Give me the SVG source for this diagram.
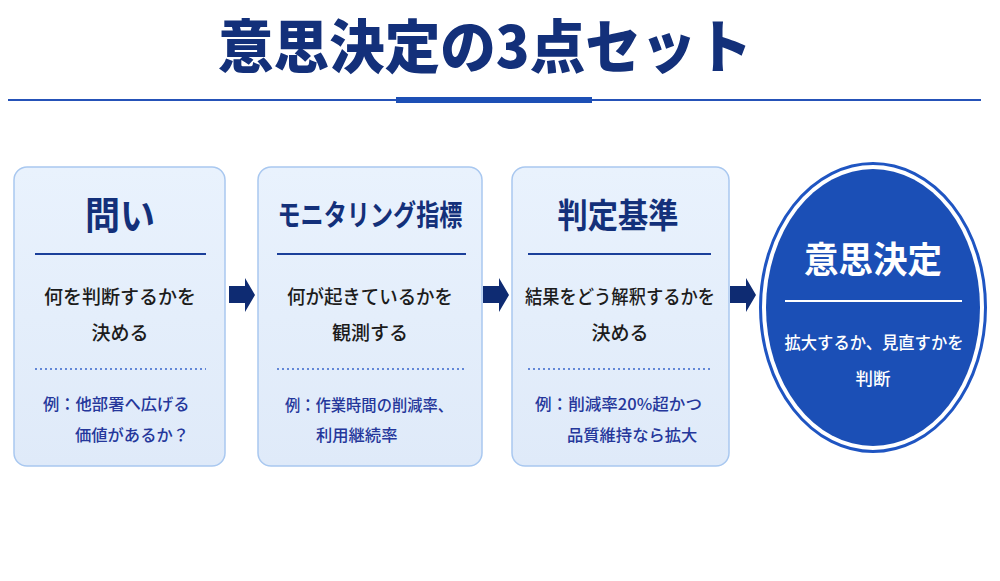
<svg xmlns="http://www.w3.org/2000/svg" width="1000" height="581" viewBox="0 0 1000 581">
  <defs>
    <linearGradient id="boxFill" x1="0" y1="0" x2="0" y2="1">
      <stop offset="0" stop-color="#e9f2fd"/>
      <stop offset="1" stop-color="#dfeaf9"/>
    </linearGradient>
    <style>
      text { font-family: "Noto Sans CJK JP", "Noto Sans", sans-serif; }
      .box { fill: url(#boxFill); stroke: #a9c8f0; stroke-width: 1.5; }
      .btitle { font-weight: 700; fill: #13307a; text-anchor: middle; }
      .rule { stroke: #1b3f9a; stroke-width: 2.2; }
      .dots { stroke: #3a66cc; stroke-width: 1.6; stroke-dasharray: 2 3; }
      .body { font-size: 19px; font-weight: 500; fill: #1c1c1c; text-anchor: middle; }
      .ex { font-size: 16.3px; font-weight: 500; fill: #25379b; }
      .arrow { fill: #0e2b72; }
    </style>
  </defs>
  <rect width="1000" height="581" fill="#ffffff"/>

  <g id="header">
    <text x="485" y="68" font-size="58" font-weight="900" fill="#13307a" text-anchor="middle" textLength="534" lengthAdjust="spacingAndGlyphs">意思決定の3点セット</text>
    <line x1="8" y1="100" x2="981" y2="100" stroke="#2552b8" stroke-width="1.8"/>
    <rect x="396" y="97" width="196" height="6" fill="#1d4fb5"/>
  </g>

  <g id="node-question">
    <rect class="box" x="14" y="167" width="211" height="299" rx="13"/>
    <text class="btitle" x="120" y="229" font-size="38" textLength="70" lengthAdjust="spacingAndGlyphs">問い</text>
    <line class="rule" x1="35" y1="254" x2="206" y2="254"/>
    <text class="body" x="120" y="304">何を判断するかを</text>
    <text class="body" x="120" y="340">決める</text>
    <line class="dots" x1="35" y1="369" x2="206" y2="369"/>
    <text class="ex" x="43" y="410">例：他部署へ広げる</text>
    <text class="ex" x="75" y="441">価値があるか？</text>
  </g>

  <g id="node-monitoring">
    <rect class="box" x="258" y="167" width="224" height="299" rx="13"/>
    <text class="btitle" x="370" y="226" font-size="29" textLength="185" lengthAdjust="spacingAndGlyphs">モニタリング指標</text>
    <line class="rule" x1="277" y1="254" x2="466" y2="254"/>
    <text class="body" x="370" y="304" textLength="166" lengthAdjust="spacingAndGlyphs">何が起きているかを</text>
    <text class="body" x="370" y="340">観測する</text>
    <line class="dots" x1="277" y1="369" x2="466" y2="369"/>
    <text class="ex" x="285" y="411" textLength="168" lengthAdjust="spacingAndGlyphs">例：作業時間の削減率、</text>
    <text class="ex" x="316" y="441">利用継続率</text>
  </g>

  <g id="node-criteria">
    <rect class="box" x="512" y="167" width="217" height="299" rx="13"/>
    <text class="btitle" x="618" y="228" font-size="34" textLength="121" lengthAdjust="spacingAndGlyphs">判定基準</text>
    <line class="rule" x1="528" y1="254" x2="711" y2="254"/>
    <text class="body" x="620" y="304" textLength="190" lengthAdjust="spacingAndGlyphs">結果をどう解釈するかを</text>
    <text class="body" x="620" y="340">決める</text>
    <line class="dots" x1="528" y1="369" x2="711" y2="369"/>
    <text class="ex" x="535" y="410" textLength="167" lengthAdjust="spacingAndGlyphs">例：削減率20%超かつ</text>
    <text class="ex" x="567" y="441">品質維持なら拡大</text>
  </g>

  <g id="node-decision">
    <ellipse cx="873" cy="307.5" rx="112.5" ry="144" fill="#ffffff" stroke="#1f55c2" stroke-width="3"/>
    <ellipse cx="873" cy="307.5" rx="107" ry="138.5" fill="#1b4fb6"/>
    <text x="873" y="273" font-size="36" font-weight="700" fill="#ffffff" text-anchor="middle" textLength="138" lengthAdjust="spacingAndGlyphs">意思決定</text>
    <line x1="785" y1="301" x2="962" y2="301" stroke="#ffffff" stroke-width="2"/>
    <text x="874" y="349" font-size="17.5" font-weight="500" fill="#ffffff" text-anchor="middle" textLength="179" lengthAdjust="spacingAndGlyphs">拡大するか、見直すかを</text>
    <text x="873" y="385" font-size="17.5" font-weight="500" fill="#ffffff" text-anchor="middle">判断</text>
  </g>

  <g id="connectors">
    <polygon class="arrow" points="229,286 245,286 245,278 255,295 245,312 245,303 229,303"/>
    <polygon class="arrow" points="483,286 499,286 499,278 509,295 499,312 499,303 483,303"/>
    <polygon class="arrow" points="730,286 746,286 746,278 756,295 746,312 746,303 730,303"/>
  </g>
</svg>
